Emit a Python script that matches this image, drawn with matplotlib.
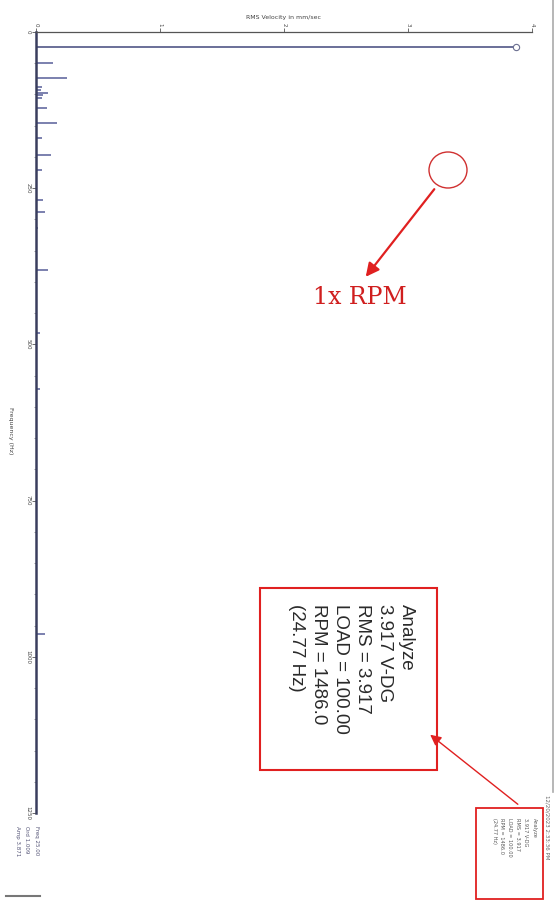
import matplotlib
matplotlib.use("Agg")
import matplotlib.pyplot as plt
from matplotlib.patches import Rectangle, Ellipse, FancyArrowPatch

# ---- data ----
freq_hz = [24.77, 49.7, 73.7, 88.0, 93.0, 97.8, 101.0, 105.8, 121.8, 145.8,
           169.9, 197.0, 221.0, 269.0, 288.0, 314.0, 381.0, 481.0, 571.0, 963.0]
amp_mm_s = [3.871, 0.14, 0.25, 0.05, 0.04, 0.10, 0.06, 0.05, 0.09, 0.17,
            0.05, 0.12, 0.05, 0.06, 0.07, 0.02, 0.10, 0.03, 0.03, 0.07]
amp_ticks = [0, 1, 2, 3, 4]
freq_ticks = [0, 250, 500, 750, 1000, 1250]
info_lines = ["Analyze", "3.917 V-DG", "RMS = 3.917", "LOAD = 100.00",
              "RPM = 1486.0", "(24.77 Hz)"]
cursor_lines = ["Freq 25.00", "Ord 1.009", "Amp 3.871"]
date_text = "12/20/2023 2:33:36 PM"

W, H = 560, 902
fig = plt.figure(figsize=(W / 100, H / 100), dpi=100)
fig.patch.set_facecolor("white")

def rect(x0, y0, x1, y1):
    return [x0 / W, 1 - y1 / H, (x1 - x0) / W, (y1 - y0) / H]

ax = fig.add_axes(rect(36, 32, 532, 813))
ax.set_xlim(0, 4)
ax.set_ylim(1250, 0)
ax.xaxis.tick_top()
ax.xaxis.set_label_position("top")
for s in ["right", "bottom"]:
    ax.spines[s].set_visible(False)
ax.spines["top"].set_color("#555555")
ax.spines["top"].set_linewidth(0.9)
ax.spines["left"].set_color("#3a3e5e")
ax.spines["left"].set_linewidth(1.8)

# spectrum stems (rotated display: amplitude horizontal, frequency vertical)
main_c = "#5e6390"
small_c = "#4a5090"
for f, a in zip(freq_hz, amp_mm_s):
    c = main_c if a > 1 else small_c
    ax.hlines(f, 0, a, color=c, lw=1.3 if a > 1 else 1.2, alpha=1 if a > 1 else 0.85)
ax.plot([amp_mm_s[0]], [freq_hz[0]], marker="o", ms=4.5, mfc="white",
        mec="#6b6f90", mew=0.8, zorder=5)

ax.set_xticks(amp_ticks)
ax.set_xticklabels([str(t) for t in amp_ticks], rotation=-90, fontsize=4,
                   color="#444444")
ax.set_yticks(freq_ticks)
ax.set_yticklabels([str(t) for t in freq_ticks], rotation=-90, fontsize=4,
                   color="#444444", va="center")
ax.set_yticks(range(0, 1251, 50), minor=True)
ax.tick_params(axis="x", length=3, width=0.6, colors="#555555", pad=1,
               labelcolor="#444444")
ax.tick_params(axis="y", which="major", length=3, width=0.6, colors="#555555",
               pad=1, labelcolor="#444444")
ax.tick_params(axis="y", which="minor", length=1.5, width=0.5,
               colors="#777777")
ax.set_xlabel("RMS Velocity in mm/sec", fontsize=4.5, color="#444444",
              labelpad=3)
ax.set_ylabel("Frequency (Hz)", fontsize=4.5, color="#444444", rotation=-90,
              labelpad=3, va="center")
ax.yaxis.set_label_coords(-0.052, 0.49)
ax.patch.set_alpha(0)

# overlay for annotations in pixel coordinates
ov = fig.add_axes([0, 0, 1, 1])
ov.set_xlim(0, W)
ov.set_ylim(H, 0)
ov.axis("off")
ov.patch.set_alpha(0)

# page border line on right and bottom-left stub
ov.plot([553, 553], [0, 792], color="#aaaaaa", lw=1.2)
ov.plot([6, 40], [896, 896], color="#777777", lw=1.5)

# cursor readout bottom-left
for i, t in enumerate(cursor_lines):
    ov.text(36 - i * 9.5, 826, t, rotation=-90, fontsize=4, color="#555577",
            ha="center", va="top")
# date (rotated)
ov.text(547, 795, date_text, rotation=-90, fontsize=4, color="#666666",
        ha="center", va="top")

red = "#e02020"
# small info box
ov.add_patch(Rectangle((476, 808), 67, 91, fill=False, ec=red, lw=1.3))
for i, t in enumerate(info_lines):
    ov.text(534 - i * 8, 818, t, rotation=-90, fontsize=3.6, color="#555555",
            ha="center", va="top")

# big info box
ov.add_patch(Rectangle((260, 588), 177, 182, fill=False, ec=red, lw=1.5))
for i, t in enumerate(info_lines):
    ov.text(406 - i * 22, 604, t, rotation=-90, fontsize=13.5,
            color="#2a2a2a", ha="center", va="top", family="Liberation Sans")

# arrow from small box to big box
ov.add_patch(FancyArrowPatch((520, 806), (428, 733), arrowstyle="-|>",
                             mutation_scale=16, color=red, lw=1.0))

# 1x RPM annotation
ov.add_patch(Ellipse((448, 170), 38, 36, fill=False, ec="#d03030", lw=1.0))
ov.add_patch(FancyArrowPatch((436, 187), (364, 279), arrowstyle="-|>",
                             mutation_scale=20, color=red, lw=1.6))
ov.text(360, 298, "1x RPM", fontsize=17, color="#d01f1f",
        family="DejaVu Serif", ha="center", va="center")

fig.savefig("out.png", dpi=100, facecolor="white")
